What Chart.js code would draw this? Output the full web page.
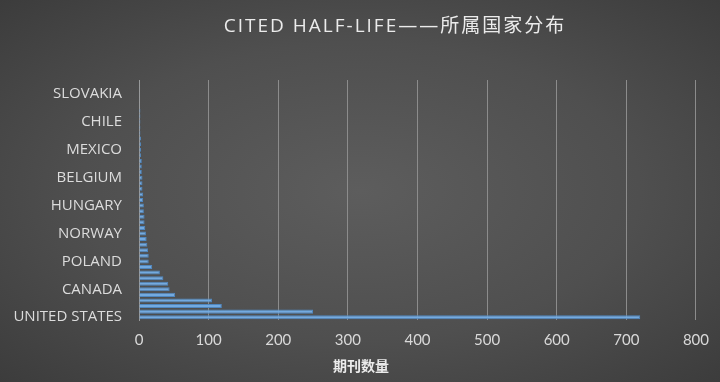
<!DOCTYPE html>
<html lang="zh">
<head>
<meta charset="UTF-8">
<title>CITED HALF-LIFE——所属国家分布</title>
<script src="https://cdn.jsdelivr.net/npm/chart.js"></script>
<style>
  html, body { margin: 0; padding: 0; }
  body {
    width: 720px;
    height: 382px;
    overflow: hidden;
    background: radial-gradient(ellipse at 50% 50%, #5d5d5d 0%, #4f4f4f 55%, #3c3c3c 100%);
  }
</style>
</head>
<body>
<canvas id="countryChart" width="720" height="382"></canvas>
<script>
  // 国家（自下而上），只每隔5个显示一个标签
  const countries = [
    'UNITED STATES', 'ENGLAND', 'NETHERLANDS', 'GERMANY', 'SWITZERLAND',
    'CANADA', 'JAPAN', 'FRANCE', 'AUSTRALIA', 'ITALY',
    'POLAND', 'SPAIN', 'PEOPLES R CHINA', 'INDIA', 'SOUTH KOREA',
    'NORWAY', 'BRAZIL', 'DENMARK', 'SWEDEN', 'SINGAPORE',
    'HUNGARY', 'NEW ZEALAND', 'RUSSIA', 'SCOTLAND', 'AUSTRIA',
    'BELGIUM', 'CZECH REPUBLIC', 'TURKEY', 'IRAN', 'ROMANIA',
    'MEXICO', 'CROATIA', 'GREECE', 'ISRAEL', 'SOUTH AFRICA',
    'CHILE', 'TAIWAN', 'ARGENTINA', 'FINLAND', 'IRELAND',
    'SLOVAKIA', 'PORTUGAL', 'SLOVENIA'
  ];
  const journalCounts = [
    720, 250, 119, 105, 52,
    44, 42, 35, 30, 19,
    14, 14, 13, 12, 11,
    10, 9, 8, 8, 7,
    7, 6, 6, 5, 5,
    5, 4, 4, 4, 3,
    3, 3, 3, 2, 2,
    2, 2, 2, 1, 1,
    1, 1, 1
  ];
  const xTicks = [0, 100, 200, 300, 400, 500, 600, 700, 800];
  const chartTitle = 'CITED HALF-LIFE——所属国家分布';
  const xTitle = '期刊数量';

  // 标题和横轴标题手动绘制（Excel 风格位置）
  const titlePlugin = {
    id: 'manualTitles',
    afterDraw(chart) {
      const ctx = chart.ctx;
      ctx.save();
      ctx.fillStyle = '#ebebeb';
      ctx.textAlign = 'center';
      ctx.textBaseline = 'middle';
      ctx.font = '19px "Open Sans", "Noto Sans CJK SC", sans-serif';
      ctx.letterSpacing = '2px';
      ctx.fillText(chartTitle, 395, 27);
      ctx.letterSpacing = '0px';
      ctx.font = 'bold 14px "Noto Sans CJK SC", sans-serif';
      ctx.fillText(xTitle, 361, 366);
      ctx.restore();
    }
  };

  const ctx = document.getElementById('countryChart').getContext('2d');
  new Chart(ctx, {
    type: 'bar',
    data: {
      labels: countries,
      datasets: [{
        label: xTitle,
        data: journalCounts,
        backgroundColor: '#73aae0',
        borderColor: '#4f87c0',
        borderWidth: 1,
        barPercentage: 0.72,
        categoryPercentage: 1
      }]
    },
    options: {
      indexAxis: 'y',
      responsive: false,
      animation: false,
      layout: { padding: { top: 80, right: 24, bottom: 34, left: 0 } },
      scales: {
        x: {
          min: 0,
          max: 800,
          afterBuildTicks(scale) { scale.ticks = xTicks.map(v => ({ value: v })); },
          afterFit(scale) { scale.height = 28; },
          grid: { color: '#8c8c8c', drawTicks: false },
          border: { display: false },
          ticks: {
            color: '#d9d9d9',
            padding: 11,
            font: { family: 'Lato', size: 15 }
          }
        },
        y: {
          reverse: true,
          afterFit(scale) { scale.width = 139; },
          grid: { display: false, drawTicks: false },
          border: { display: true, color: '#9a9a9a' },
          ticks: {
            autoSkip: false,
            color: '#dcdcdc',
            padding: 17,
            font: { family: 'Open Sans', size: 15 },
            callback(value, index) {
              return index % 5 === 0 ? this.getLabelForValue(value) : '';
            }
          }
        }
      },
      plugins: {
        legend: { display: false },
        title: { display: false },
        tooltip: { enabled: false }
      }
    },
    plugins: [titlePlugin]
  });
</script>
</body>
</html>
